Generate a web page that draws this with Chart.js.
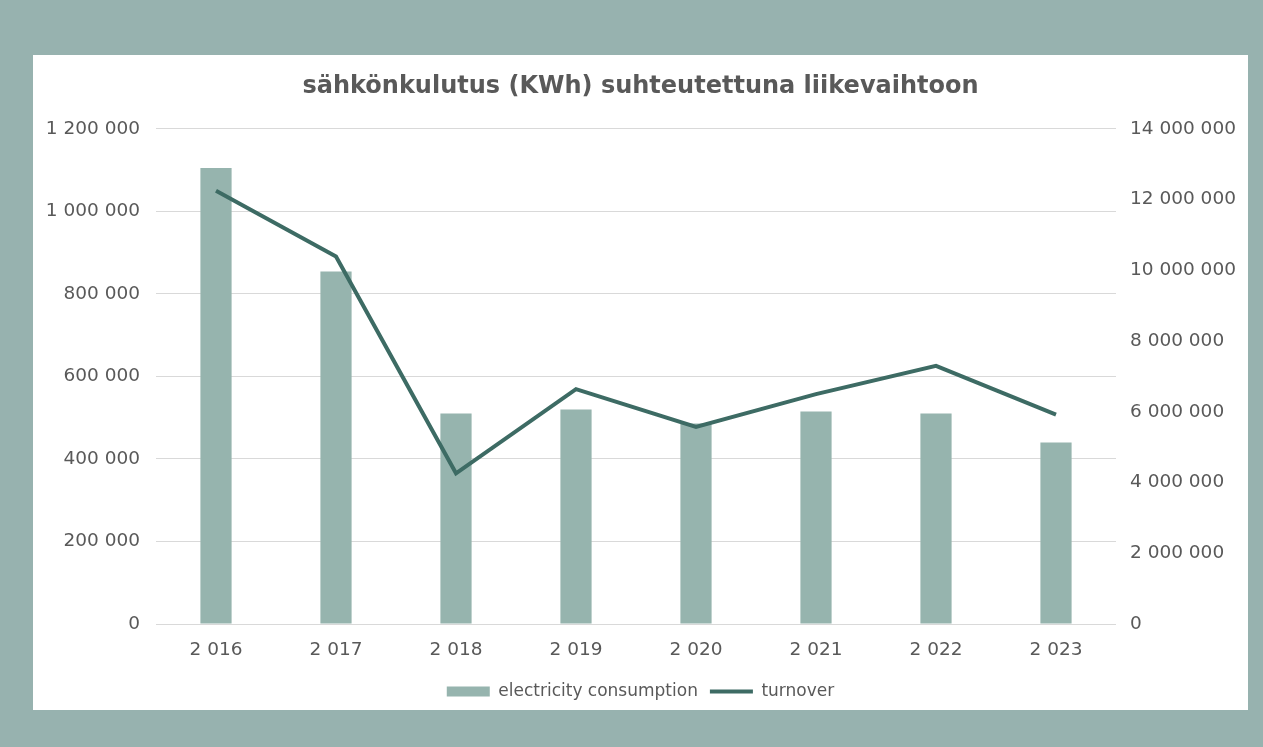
<!DOCTYPE html>
<html>
<head>
<meta charset="utf-8">
<script src="https://cdn.jsdelivr.net/npm/chart.js@4.4.1/dist/chart.umd.min.js"></script>
<style>
  html, body { margin: 0; padding: 0; }
  body { width: 1263px; height: 747px; background: #97b2af; position: relative; overflow: hidden; }
  #panel { position: absolute; left: 33px; top: 55px; width: 1215px; height: 655px; background: #fff; }
</style>
</head>
<body>
<div id="panel"><canvas id="chart" width="1215" height="655"></canvas></div>
<script>
// === DATA ===
const vuodet = ["2 016", "2 017", "2 018", "2 019", "2 020", "2 021", "2 022", "2 023"];
const sahko = [1105000, 854000, 510000, 520000, 486000, 515000, 510000, 440000];
const liikevaihto = [12250000, 10390000, 4260000, 6640000, 5570000, 6500000, 7300000, 5920000];

const harmaa = "#595959";
const fontti = "'DejaVu Sans', 'Liberation Sans', sans-serif";

// luvut muotoon "1 200 000"
function muotoile(v) {
  return String(Math.round(v)).replace(/\B(?=(\d{3})+(?!\d))/g, " ");
}

new Chart(document.getElementById("chart"), {
  data: {
    labels: vuodet,
    datasets: [
      {
        type: "line",
        label: "turnover",
        data: liikevaihto,
        borderColor: "#3d6b64",
        backgroundColor: "#3d6b64",
        borderWidth: 4,
        pointRadius: 0,
        pointStyle: "line",
        tension: 0,
        yAxisID: "y1",
        order: 1
      },
      {
        type: "bar",
        label: "electricity consumption",
        data: sahko,
        backgroundColor: "#96b4ae",
        pointStyle: "rect",
        categoryPercentage: 1,
        barPercentage: 0.26,
        yAxisID: "y",
        order: 2
      }
    ]
  },
  options: {
    responsive: false,
    animation: false,
    layout: { padding: 0 },
    plugins: {
      title: {
        display: true,
        text: "sähkönkulutus (KWh) suhteutettuna liikevaihtoon",
        color: harmaa,
        font: { family: fontti, size: 24, weight: "bold" },
        padding: { top: 17, bottom: 28 }
      },
      legend: {
        position: "bottom",
        reverse: true,
        labels: {
          color: harmaa,
          font: { family: fontti, size: 17 },
          usePointStyle: true,
          pointStyleWidth: 43,
          boxHeight: 10,
          padding: 12
        }
      },
      tooltip: { enabled: false }
    },
    scales: {
      x: {
        grid: { display: false },
        border: { display: false },
        ticks: { color: harmaa, font: { family: fontti, size: 18.5 }, padding: 7, maxRotation: 0 },
        afterFit: s => { s.height = 47; }
      },
      y: {
        position: "left",
        min: 0, max: 1200000,
        ticks: { stepSize: 200000, color: harmaa, font: { family: fontti, size: 18.5 }, padding: 16, callback: muotoile },
        grid: { color: "#d9d9d9", lineWidth: 1, drawTicks: false },
        border: { display: false },
        afterFit: s => { s.width = 123; }
      },
      y1: {
        position: "right",
        min: 0, max: 14000000,
        ticks: { stepSize: 2000000, color: harmaa, font: { family: fontti, size: 18.5 }, padding: 14, callback: muotoile },
        grid: { display: false, drawTicks: false },
        border: { display: false },
        afterFit: s => { s.width = 132; }
      }
    }
  }
});
</script>
</body>
</html>
